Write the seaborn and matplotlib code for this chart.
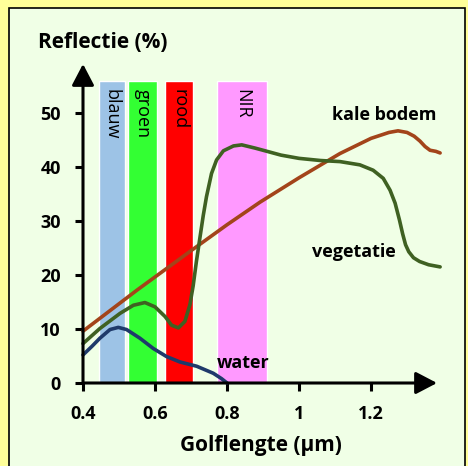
import matplotlib
matplotlib.use('Agg')
import matplotlib.pyplot as plt
from matplotlib.patches import Rectangle
import seaborn as sns
import pandas as pd

# reflectance curves (wavelength in um, reflectance in %)
water_x = [0.40, 0.425, 0.447, 0.475, 0.498, 0.521, 0.558, 0.595, 0.632, 0.669, 0.716, 0.762, 0.785, 0.80]
water_y = [5.2, 6.8, 8.3, 9.9, 10.3, 9.9, 8.3, 6.4, 4.9, 3.9, 3.1, 1.8, 0.8, 0.0]

bodem_x = [0.40, 0.55, 0.70, 0.80, 0.892, 1.00, 1.114, 1.20, 1.25, 1.275, 1.30, 1.32, 1.336,
           1.35, 1.364, 1.38, 1.392]
bodem_y = [9.6, 17.2, 24.5, 29.3, 33.5, 38.0, 42.5, 45.3, 46.4, 46.7, 46.4, 45.7, 44.8,
           43.8, 43.1, 42.9, 42.6]

veg_x = [0.40, 0.447, 0.503, 0.54, 0.572, 0.60, 0.628, 0.646, 0.665, 0.683, 0.697, 0.706,
         0.715, 0.725, 0.734, 0.743, 0.757, 0.771, 0.79, 0.818, 0.841, 0.878, 0.95, 1.00,
         1.06, 1.114, 1.169, 1.206, 1.234, 1.253, 1.267, 1.279, 1.288, 1.296, 1.305, 1.318,
         1.335, 1.36, 1.392]
veg_y = [7.3, 10.1, 12.9, 14.4, 14.9, 14.1, 12.3, 10.7, 10.2, 11.4, 14.5, 18.0,
         22.5, 27.0, 31.0, 34.5, 38.8, 41.3, 43.0, 43.9, 44.1, 43.5, 42.2, 41.6,
         41.2, 41.0, 40.4, 39.4, 37.9, 35.7, 33.3, 30.2, 27.6, 25.6, 24.3, 23.2,
         22.5, 21.9, 21.5]

# spectral bands
band_names = ['blauw', 'groen', 'rood', 'NIR']
band_start = [0.444, 0.525, 0.628, 0.772]
band_end = [0.517, 0.606, 0.706, 0.911]
band_top = 55.9
band_colors = ['#9DC3E6', '#33FF33', '#FF0000', '#FF99FF']

x_ticks = [0.4, 0.6, 0.8, 1.0, 1.2]
x_labels = ['0.4', '0.6', '0.8', '1', '1.2']
y_ticks = [0, 10, 20, 30, 40, 50]

sns.set_style('white')
plt.rcParams['font.family'] = ['Open Sans', 'DejaVu Sans']
plt.rcParams['text.color'] = 'black'
plt.rcParams['xtick.color'] = 'black'
plt.rcParams['ytick.color'] = 'black'

W, H = 468, 466
fig = plt.figure(figsize=(W / 100, H / 100), dpi=100)
fig.patch.set_facecolor('#FFFF99')
panel = Rectangle((9 / W, -0.01), (465 - 9) / W, 1.01 - 8 / H, transform=fig.transFigure,
                  facecolor='#F0FFE6', edgecolor='black', linewidth=1.2, zorder=-5)
fig.patches.append(panel)

ax = fig.add_axes([83 / W, (H - 383) / H, (437 - 83) / W, (383 - 64) / H])
ax.set_zorder(2)
ax.set_facecolor('none')
ax.set_xlim(0.4, 0.4 + 354 / 360)
ax.set_ylim(0, 319 / 5.4)
for s in ax.spines.values():
    s.set_visible(False)

# bands
centers = [(a + b) / 2 for a, b in zip(band_start, band_end)]
widths = [b - a for a, b in zip(band_start, band_end)]
ax.bar(centers, [band_top] * 4, width=widths, color=band_colors, zorder=1)
for c, name in zip(centers, band_names):
    ax.text(c, band_top - 1.4, name, rotation=-90, ha='center', va='top', fontsize=13, zorder=2)

# curves
curves = [(water_x, water_y, '#1F3A6B'), (bodem_x, bodem_y, '#A3441A'), (veg_x, veg_y, '#3F6122')]
for xs, ys, col in curves:
    df = pd.DataFrame({'x': xs, 'y': ys})
    sns.lineplot(data=df, x='x', y='y', ax=ax, color=col, linewidth=2.6, estimator=None,
                 clip_on=False, zorder=3, solid_capstyle='round', solid_joinstyle='round')

ax.set_xlabel('')
ax.set_ylabel('')

# axes with arrows
arrow = dict(arrowstyle='-|>,head_length=0.65,head_width=0.34', color='black', lw=2.2,
             mutation_scale=20, shrinkA=0, shrinkB=0)
ax.annotate('', xy=(1, 0), xytext=(0, 0), xycoords='axes fraction', arrowprops=arrow, zorder=4)
ax.annotate('', xy=(0, 1), xytext=(0, 0), xycoords='axes fraction', arrowprops=arrow, zorder=4)

ax.set_xticks(x_ticks)
ax.set_xticklabels(x_labels)
ax.set_yticks(y_ticks)
ax.tick_params(axis='both', direction='out', length=6, width=2.2, color='black',
               labelsize=13, pad=10, left=True, bottom=True)
for lab in ax.get_xticklabels() + ax.get_yticklabels():
    lab.set_fontweight('bold')

ax.text(1.236, 49.6, 'kale bodem', ha='center', va='center', fontsize=13, fontweight='bold')
ax.text(1.153, 24.3, 'vegetatie', ha='center', va='center', fontsize=13, fontweight='bold')
ax.text(0.846, 3.7, 'water', ha='center', va='center', fontsize=13, fontweight='bold')

fig.text(38 / W, 1 - 42 / H, 'Reflectie (%)', ha='left', va='center', fontsize=15, fontweight='bold')
fig.text(261 / W, 1 - 445 / H, 'Golflengte (µm)', ha='center', va='center', fontsize=15, fontweight='bold')

fig.savefig('out.png', dpi=100, facecolor=fig.get_facecolor())
